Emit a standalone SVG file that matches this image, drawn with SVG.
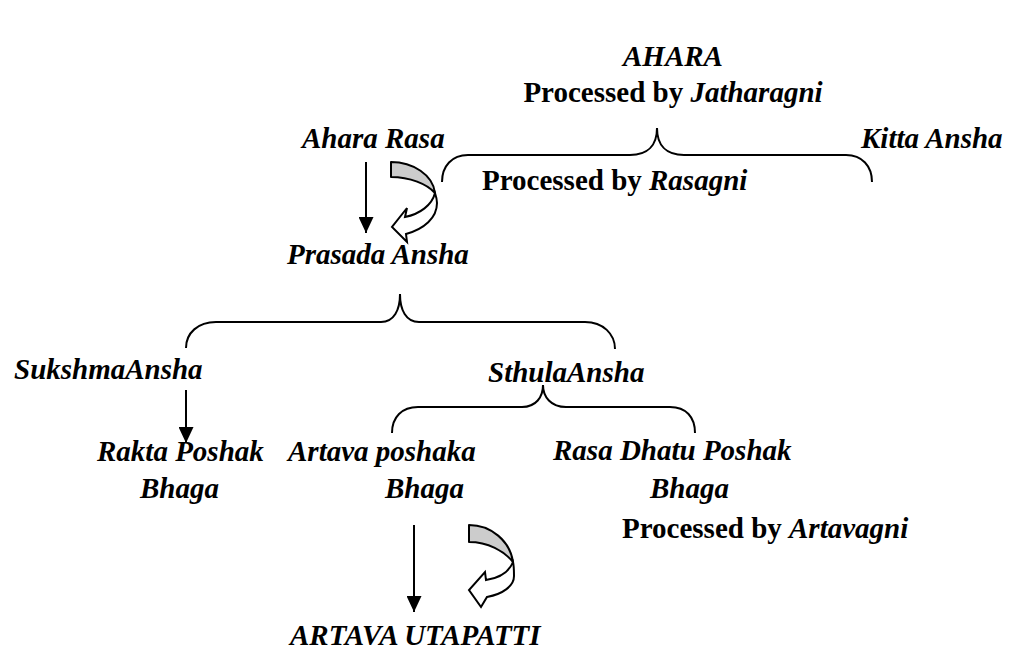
<svg xmlns="http://www.w3.org/2000/svg" width="1010" height="655" viewBox="0 0 1010 655">
<style>
text{font-family:"Liberation Serif","Times New Roman",serif;font-size:29px;font-weight:bold;fill:#000}
.i{font-style:italic}
.br{fill:none;stroke:#000;stroke-width:2}
.ln{stroke:#000;stroke-width:2;marker-end:url(#ah)}
.g{fill:#cccccc;stroke:#000;stroke-width:2;stroke-linejoin:round}
.w{fill:#fff;stroke:#000;stroke-width:2;stroke-linejoin:miter}
</style>
<defs>
<marker id="ah" viewBox="0 0 16 15" markerWidth="16" markerHeight="15" refX="16" refY="7.5" orient="auto" markerUnits="userSpaceOnUse">
<path d="M0,0 L16,7.5 L0,15 Z" fill="#000"/>
</marker>
</defs>
<rect width="1010" height="655" fill="#fff"/>
<g id="ahara"><text class="i" x="673" y="66" text-anchor="middle">AHARA</text>
<text x="673" y="102" text-anchor="middle">Processed by <tspan class="i">Jatharagni</tspan></text></g>
<g id="ahara-rasa"><text class="i" x="302" y="148">Ahara Rasa</text></g>
<g id="kitta"><text class="i" x="861" y="148">Kitta Ansha</text></g>
<g id="rasagni"><text x="482" y="190">Processed by <tspan class="i">Rasagni</tspan></text></g>
<g id="prasada"><text class="i" x="287" y="264">Prasada Ansha</text></g>
<g id="sukshma"><text class="i" x="14" y="379">SukshmaAnsha</text></g>
<g id="sthula"><text class="i" x="488" y="382">SthulaAnsha</text></g>
<g id="rakta"><text class="i" x="97" y="461">Rakta Poshak</text><text class="i" x="140" y="498">Bhaga</text></g>
<g id="artava"><text class="i" x="288" y="461">Artava poshaka</text><text class="i" x="385" y="498">Bhaga</text></g>
<g id="rasadhatu"><text class="i" x="553" y="460">Rasa Dhatu Poshak</text><text class="i" x="650" y="498">Bhaga</text></g>
<g id="artavagni"><text x="622" y="538">Processed by <tspan class="i">Artavagni</tspan></text></g>
<g id="utapatti"><text class="i" x="290" y="645">ARTAVA UTAPATTI</text></g>
<g id="connectors">
<path class="br" d="M442,182 C442,166 452,155 468,155 L630,155 C648,155 657,145 657,128 C657,145 666,155 684,155 L846,155 C862,155 872,166 872,182"/>
<path class="br" d="M186,348 C186,333 198,322 216,322 L381,322 C394,322 400,310 400,294 C400,310 406,322 419,322 L585,322 C603,322 615,334 615,349"/>
<path class="br" d="M392,433 C392,417 402,407 418,407 L522,407 C536,407 543,397 543,385 C543,397 551,407 566,407 L670,407 C686,407 695,417 695,433"/>
<line class="ln" x1="366" y1="162" x2="366" y2="233"/>
<line class="ln" x1="186" y1="390" x2="186" y2="443"/>
<line class="ln" x1="414" y1="525" x2="414" y2="612"/>
<path class="g" d="M391,162 C413,162 433,175 435,193 C427,184 410,177 391,177 Z"/>
<path class="w" d="M435,193 C432,205 420,214 405,217 L407,208 L392,227 L407,242 L406,234 C424,229 437,218 437,203 C437,199 436,196 435,193 Z"/>
<path class="g" d="M469,525 C491,525 510,541 513,562 C504,551 488,542 469,542 Z"/>
<path class="w" d="M513,562 C509,572 499,578 486,580 L485,572 L469,590 L481,607 L487,597 C503,594 514,586 514,576 C514,571 514,566 513,562 Z"/>
</g>
</svg>
